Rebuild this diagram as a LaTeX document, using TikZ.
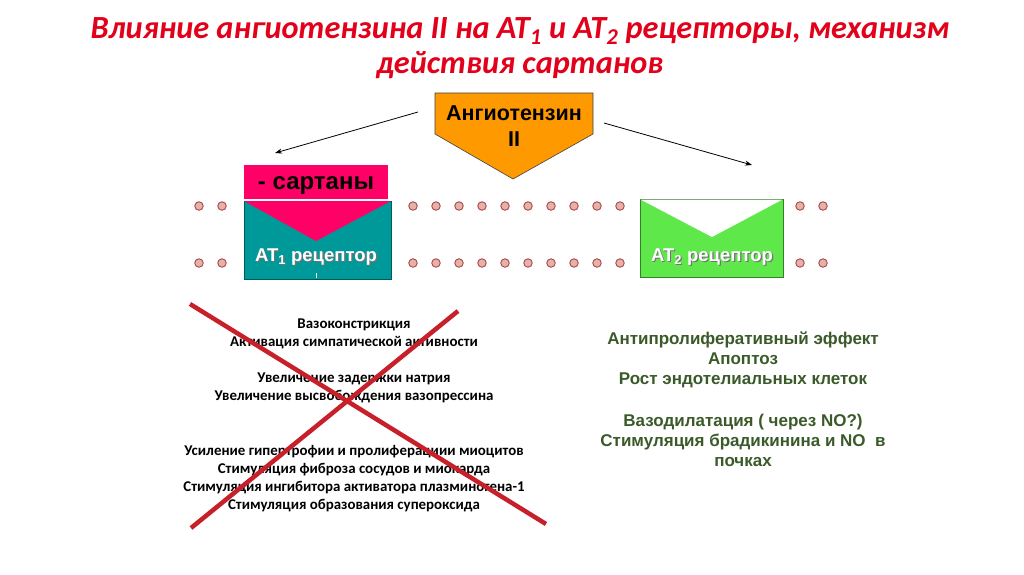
\documentclass[tikz,border=0pt]{standalone}
\usepackage{fontspec}
\setmainfont{Carlito}
\newfontfamily\arialf{Liberation Sans}
\usetikzlibrary{arrows.meta}
\definecolor{titlered}{HTML}{E2001A}
\definecolor{angor}{HTML}{FF9900}
\definecolor{sartpink}{HTML}{FF0066}
\definecolor{atteal}{HTML}{009999}
\definecolor{atgreen}{HTML}{5FE84A}
\definecolor{txtgreen}{HTML}{3B5A29}
\definecolor{xred}{HTML}{C8202A}
\definecolor{dotfill}{HTML}{E6B2A8}
\definecolor{dotedge}{HTML}{A84848}
\tikzset{
  titlestyle/.style={text=titlered, align=center, font=\fontsize{32.3}{35}\selectfont\bfseries\itshape},
  pointer/.style={-{Stealth[length=7pt,width=5pt]}, line width=0.8pt, black},
  dotstyle/.style={circle, fill=dotfill, draw=dotedge, line width=0.9pt, minimum size=8.5pt, inner sep=0pt},
  effectsleft/.style={align=center, font=\fontsize{14.9}{18}\selectfont\bfseries, text=black},
  effectsright/.style={align=center, font=\arialf\fontsize{17}{20}\selectfont\bfseries, text=txtgreen},
  recbox/.style={line width=0.6pt},
  reclabel/.style={font=\arialf\fontsize{18.5}{20}\selectfont\bfseries, text=white},
  recshadow/.style={font=\arialf\fontsize{18.5}{20}\selectfont\bfseries, text=black!55},
  crossline/.style={xred, line width=4.5pt}
}
\begin{document}
\begin{tikzpicture}[x=1pt,y=-1pt]
\useasboundingbox[fill=white] (0,0) rectangle (1024,574);

% title
\node[titlestyle] (title) at (520,48) {Влияние ангиотензина II на AT\textsubscript{1} и AT\textsubscript{2} рецепторы, механизм\\действия сартанов};

% angiotensin pentagon
\draw[fill=angor, draw=black!75, line width=0.6pt] (435,93) -- (593,93) -- (593,134) -- (513,179) -- (435,134) -- cycle;
\node[font=\arialf\fontsize{21.5}{26}\selectfont\bfseries, align=center] (ang) at (514,126) {Ангиотензин\\II};
\coordinate (angL) at (418,112);
\coordinate (angR) at (604,123);
\coordinate (toAT1) at (275,153);
\coordinate (toAT2) at (752,165);
\draw[pointer] (angL) -- (toAT1);
\draw[pointer] (angR) -- (toAT2);

% membrane dots
\foreach \xx [count=\i] in {199,222,413,436,459,482,505,528,551,574,597,620,800,823}{
  \node[dotstyle] (dA\i) at (\xx,206) {};
  \node[dotstyle] (dB\i) at (\xx,263) {};
}

% AT1 receptor with sartans
\draw[recbox, fill=atteal, draw=atteal!60!black] (244,201) rectangle (391,279);
\fill[sartpink] (244,201) -- (391,201) -- (316,241) -- cycle;
\fill[sartpink] (244,165) rectangle (388,198.5);
\draw[white, line width=1.2pt] (244,199.6) -- (388,199.6);
\node[font=\arialf\fontsize{24}{26}\selectfont\bfseries] (sart) at (316,186) {- сартаны};
\node[recshadow] at (317.2,258.2) {AT\textsubscript{1} рецептор};
\node[reclabel] (at1) at (316,257) {AT\textsubscript{1} рецептор};
\draw[white, line width=1.2pt] (316.5,273) -- (316.5,278);

% AT2 receptor
\draw[recbox, fill=atgreen, draw=atgreen!55!black] (640,199) rectangle (783,277);
\fill[white] (640.5,199.5) -- (782.5,199.5) -- (712,237) -- cycle;
\node[recshadow] at (713.2,258.2) {AT\textsubscript{2} рецептор};
\node[reclabel] (at2) at (712,257) {AT\textsubscript{2} рецептор};

% left effects (AT1)
\node[effectsleft] (l1) at (354,334) {Вазоконстрикция\\Активация симпатической активности};
\node[effectsleft] (l2) at (354,388) {Увеличение задержки натрия\\Увеличение высвобождения вазопрессина};
\node[effectsleft] (l3) at (354,478.5) {Усиление гипертрофии и пролиферациии миоцитов\\Стимуляция фиброза сосудов и миокарда\\Стимуляция ингибитора активатора плазминогена-1\\Стимуляция образования супероксида};

% red cross
\coordinate (xa1) at (190,304);
\coordinate (xa2) at (546,524);
\coordinate (xb1) at (458,311);
\coordinate (xb2) at (191,528);
\draw[crossline] (xa1) -- (xa2);
\draw[crossline] (xb1) -- (xb2);

% right effects (AT2)
\node[effectsright] (r1) at (743,360) {Антипролиферативный эффект\\Апоптоз\\Рост эндотелиальных клеток};
\node[effectsright] (r2) at (743,440) {Вазодилатация ( через NO?)\\Стимуляция брадикинина и NO\ \ в\\почках};
\end{tikzpicture}
\end{document}
